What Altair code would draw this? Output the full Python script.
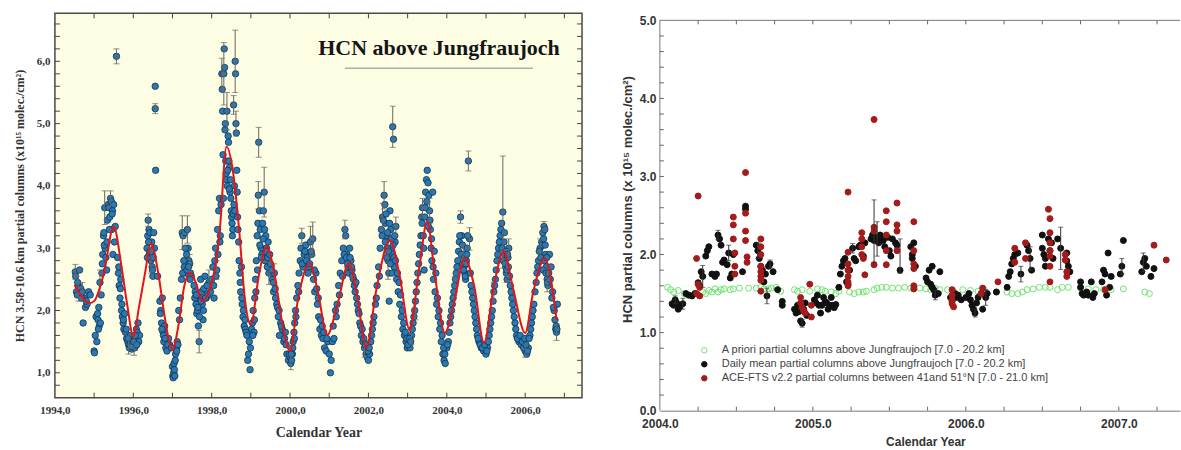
import altair as alt
import pandas as pd

# ---------------- LEFT PANEL DATA (HCN above Jungfraujoch, 3.58-10.6 km) ----------------
t1994 = [1994.52, 1994.53, 1994.55, 1994.57, 1994.60, 1994.63, 1994.66, 1994.70, 1994.72, 1994.75, 1994.78, 1994.82, 1994.86, 1994.90]
v1994 = [2.62, 2.55, 2.30, 2.25, 2.40, 2.65, 2.35, 2.30, 1.80, 2.20, 2.05, 2.10, 2.30, 2.25]

t1995 = [1995.00, 1995.01, 1995.05, 1995.07, 1995.09, 1995.10, 1995.12, 1995.13, 1995.15, 1995.16, 1995.18, 1995.20,
         1995.22, 1995.24, 1995.25, 1995.27, 1995.28, 1995.30, 1995.32, 1995.34, 1995.36, 1995.38, 1995.40, 1995.42,
         1995.44, 1995.45, 1995.47, 1995.48, 1995.50, 1995.52, 1995.57, 1995.60, 1995.62, 1995.64, 1995.66, 1995.68,
         1995.70, 1995.72, 1995.74, 1995.76, 1995.78, 1995.80, 1995.83, 1995.86, 1995.88, 1995.90, 1995.93, 1995.96, 1995.98]
v1995 = [1.35, 1.32, 1.90, 1.50, 1.95, 1.85, 2.05, 1.75, 2.45, 1.80, 2.25, 2.60,
         2.90, 3.20, 3.25, 3.65, 3.00, 2.85, 2.65, 3.45, 3.70, 3.65, 3.50, 3.80,
         3.75, 3.30, 3.60, 2.90, 3.70, 3.10, 6.08, 2.85, 2.60, 2.40, 2.20, 2.50,
         2.00, 1.90, 1.80, 1.70, 1.95, 1.65, 1.55, 1.50, 1.45, 1.40, 1.60, 1.38, 1.50]

t1996 = [1996.02, 1996.04, 1996.06, 1996.08, 1996.10, 1996.12, 1996.14, 1996.16, 1996.35, 1996.37, 1996.38, 1996.40,
         1996.41, 1996.43, 1996.45, 1996.47, 1996.48, 1996.50, 1996.52, 1996.54, 1996.56, 1996.56, 1996.57, 1996.62,
         1996.68, 1996.70, 1996.72, 1996.74, 1996.76, 1996.78, 1996.80, 1996.83, 1996.86, 1996.90, 1996.93]
v1996 = [1.45, 1.40, 1.55, 1.70, 1.65, 1.80, 1.50, 1.60, 3.00, 3.20, 3.45, 3.30,
         2.90, 3.25, 2.80, 3.10, 2.70, 2.55, 3.25, 3.00, 5.60, 5.24, 4.25, 2.55,
         2.15, 2.00, 1.80, 2.20, 1.65, 1.50, 1.75, 1.40, 1.35, 1.55, 1.45]

t1997 = [1997.00, 1997.01, 1997.02, 1997.03, 1997.04, 1997.05, 1997.06, 1997.08, 1997.10, 1997.12, 1997.14, 1997.16,
         1997.20, 1997.23, 1997.25, 1997.27, 1997.30, 1997.32, 1997.34, 1997.36, 1997.38, 1997.40, 1997.42, 1997.44,
         1997.46, 1997.48, 1997.55, 1997.58, 1997.60, 1997.62, 1997.64, 1997.66, 1997.68, 1997.70, 1997.72, 1997.74,
         1997.76, 1997.78, 1997.80, 1997.83, 1997.86, 1997.90, 1997.93, 1997.97]
v1997 = [1.10, 0.95, 0.92, 1.00, 1.15, 1.05, 0.95, 1.30, 1.40, 1.50, 1.45, 2.00,
         2.20, 2.50, 3.25, 3.20, 2.70, 3.25, 2.60, 2.90, 3.30, 3.00, 2.80, 2.75,
         2.60, 2.55, 2.40, 2.30, 2.10, 1.95, 2.00, 1.75, 1.50, 2.20, 2.50, 2.30,
         2.10, 1.85, 2.35, 2.55, 2.20, 2.25, 2.45, 2.30]

t1998 = [1998.00, 1998.03, 1998.06, 1998.08, 1998.10, 1998.13, 1998.15, 1998.18, 1998.20, 1998.22, 1998.24, 1998.26,
         1998.27, 1998.28, 1998.29, 1998.30, 1998.31, 1998.32, 1998.33, 1998.34, 1998.35, 1998.36, 1998.37, 1998.38,
         1998.39, 1998.40, 1998.42, 1998.43, 1998.44, 1998.46, 1998.47, 1998.48, 1998.50, 1998.52, 1998.54, 1998.56,
         1998.57, 1998.58, 1998.60, 1998.61, 1998.62, 1998.63, 1998.64, 1998.65, 1998.67, 1998.70, 1998.72, 1998.74,
         1998.76, 1998.78, 1998.80, 1998.83, 1998.86, 1998.88, 1998.92, 1998.94, 1998.96, 1998.98, 1998.99]
v1998 = [2.50, 2.70, 2.20, 2.80, 3.00, 2.65, 3.30, 3.60, 3.80, 3.20, 3.70, 5.80,
         5.55, 5.20, 4.50, 3.80, 5.80, 6.20, 5.90, 4.90, 5.00, 4.40, 4.20, 4.10,
         5.20, 4.00, 4.80, 4.70, 4.40, 4.30, 3.90, 4.10, 3.60, 3.40, 3.30, 5.30,
         3.70, 4.00, 6.00, 5.80, 5.00, 4.85, 4.25, 3.90, 3.30, 2.80, 2.60, 2.30,
         2.70, 2.10, 1.90, 1.75, 1.70, 1.65, 1.20, 1.30, 1.50, 1.05, 1.40]

t1999 = [1999.02, 1999.04, 1999.06, 1999.08, 1999.10, 1999.12, 1999.14, 1999.16, 1999.18, 1999.19, 1999.20, 1999.22,
         1999.24, 1999.26, 1999.28, 1999.30, 1999.32, 1999.34, 1999.36, 1999.38, 1999.40, 1999.42, 1999.44, 1999.46,
         1999.50, 1999.55, 1999.58, 1999.60, 1999.63, 1999.66, 1999.70, 1999.73, 1999.76, 1999.80, 1999.84, 1999.88,
         1999.92, 1999.96]
v1999 = [1.70, 1.80, 2.00, 1.65, 2.20, 2.50, 2.80, 3.20, 3.40, 3.85, 4.70, 3.60,
         3.30, 3.00, 2.90, 3.40, 3.60, 3.90, 2.80, 3.20, 3.00, 2.70, 3.10, 2.60,
         2.75, 2.50, 2.30, 2.60, 2.20, 2.10, 1.90, 1.60, 1.80, 1.70, 1.50, 1.65,
         1.30, 1.20]

t2000 = [2000.00, 2000.02, 2000.04, 2000.06, 2000.08, 2000.10, 2000.12, 2000.14, 2000.17, 2000.20, 2000.23, 2000.26,
         2000.28, 2000.30, 2000.33, 2000.36, 2000.40, 2000.44, 2000.48, 2000.52, 2000.55, 2000.58, 2000.60, 2000.63,
         2000.66, 2000.70, 2000.73, 2000.76, 2000.80, 2000.84, 2000.88, 2000.92, 2000.96]
v2000 = [1.25, 1.15, 1.20, 1.30, 1.50, 1.65, 1.80, 2.00, 2.20, 2.40, 2.60, 2.80,
         3.00, 3.20, 2.70, 2.90, 3.05, 2.85, 2.70, 3.10, 2.90, 3.15, 2.50, 2.30,
         2.60, 2.10, 1.90, 1.70, 1.60, 1.55, 1.40, 1.35, 1.50]

t2001 = [2001.00, 2001.03, 2001.05, 2001.08, 2001.12, 2001.16, 2001.20, 2001.24, 2001.28, 2001.32, 2001.36, 2001.40,
         2001.42, 2001.45, 2001.48, 2001.50, 2001.52, 2001.55, 2001.58, 2001.62, 2001.66, 2001.70, 2001.74, 2001.78,
         2001.82, 2001.86, 2001.90, 2001.94, 2001.97]
v2001 = [1.30, 1.00, 1.20, 1.50, 1.55, 2.00, 2.10, 2.40, 2.60, 2.80, 3.00, 3.30,
         3.20, 2.90, 2.70, 2.60, 3.00, 2.80, 2.65, 2.50, 2.30, 2.20, 2.00, 1.80,
         1.60, 1.50, 1.40, 1.30, 1.25]

t2002 = [2002.00, 2002.03, 2002.06, 2002.10, 2002.14, 2002.18, 2002.22, 2002.26, 2002.30, 2002.33, 2002.36, 2002.40,
         2002.42, 2002.44, 2002.46, 2002.48, 2002.50, 2002.52, 2002.53, 2002.55, 2002.57, 2002.59, 2002.61, 2002.62,
         2002.64, 2002.66, 2002.68, 2002.70, 2002.72, 2002.76, 2002.80, 2002.84, 2002.88, 2002.92, 2002.96, 2002.99]
v2002 = [1.20, 1.30, 1.50, 1.70, 1.90, 2.10, 2.40, 2.70, 3.00, 3.30, 3.50, 3.85,
         3.70, 3.40, 3.20, 3.00, 2.80, 2.60, 2.15, 3.60, 3.30, 3.00, 2.90, 4.95,
         4.75, 2.70, 3.10, 3.35, 2.50, 2.30, 2.10, 1.90, 1.70, 1.60, 1.50, 1.40]

t2003 = [2003.03, 2003.06, 2003.10, 2003.14, 2003.18, 2003.22, 2003.26, 2003.30, 2003.34, 2003.36, 2003.38, 2003.40,
         2003.42, 2003.44, 2003.46, 2003.48, 2003.50, 2003.52, 2003.54, 2003.56, 2003.58, 2003.60, 2003.62, 2003.64,
         2003.66, 2003.70, 2003.74, 2003.78, 2003.82, 2003.86, 2003.90, 2003.93, 2003.96]
v2003 = [1.50, 1.40, 1.60, 1.80, 2.00, 2.30, 2.60, 2.90, 3.20, 3.50, 3.65, 3.20,
         2.65, 3.50, 3.90, 4.10, 4.25, 4.05, 3.85, 3.60, 3.30, 3.00, 2.80, 3.90,
         2.50, 2.30, 2.10, 1.90, 1.70, 1.50, 1.30, 1.20, 1.15]

t2004 = [2004.00, 2004.04, 2004.08, 2004.12, 2004.16, 2004.20, 2004.24, 2004.28, 2004.32, 2004.35, 2004.38, 2004.40,
         2004.42, 2004.44, 2004.46, 2004.48, 2004.50, 2004.52, 2004.55, 2004.58, 2004.62, 2004.66, 2004.70, 2004.74,
         2004.78, 2004.82, 2004.88, 2004.94]
v2004 = [1.40, 1.50, 1.80, 2.00, 2.20, 2.40, 2.60, 2.80, 3.10, 3.50, 3.20, 3.05,
         2.90, 2.70, 2.60, 2.50, 2.80, 3.00, 4.40, 3.15, 2.40, 2.20, 2.00, 1.80,
         1.60, 1.50, 1.40, 1.35]

t2005 = [2005.00, 2005.04, 2005.08, 2005.12, 2005.16, 2005.20, 2005.24, 2005.28, 2005.32, 2005.36, 2005.40, 2005.43,
         2005.46, 2005.48, 2005.50, 2005.52, 2005.54, 2005.56, 2005.58, 2005.62, 2005.66, 2005.70, 2005.74, 2005.78,
         2005.84, 2005.90]
v2005 = [1.30, 1.40, 1.60, 1.80, 2.00, 2.30, 2.50, 2.80, 3.00, 3.20, 3.40, 3.58,
         3.10, 2.90, 2.70, 2.60, 2.50, 2.85, 3.00, 2.40, 2.20, 2.00, 1.80, 1.60,
         1.50, 1.45]

t2006 = [2006.00, 2006.04, 2006.08, 2006.12, 2006.16, 2006.20, 2006.25, 2006.30, 2006.34, 2006.38, 2006.42, 2006.45,
         2006.48, 2006.50, 2006.52, 2006.54, 2006.56, 2006.58, 2006.62, 2006.66, 2006.70, 2006.74, 2006.78, 2006.80, 2006.82]
v2006 = [1.35, 1.30, 1.40, 1.60, 1.80, 2.00, 2.30, 2.60, 2.80, 3.00, 3.10, 3.25,
         3.35, 3.30, 2.90, 2.70, 2.50, 2.40, 2.90, 2.70, 2.30, 2.00, 1.70, 1.65, 2.10]

# extra observations filling the dense band around the seasonal cycle
tx = [1994.58, 1994.68, 1994.80, 1995.03, 1995.11, 1995.21, 1995.26, 1995.33, 1995.39, 1995.46, 1995.54, 1995.63,
      1995.67, 1995.71, 1995.75, 1995.82, 1995.87, 1995.92, 1995.95, 1996.01, 1996.05, 1996.09, 1996.36, 1996.39,
      1996.42, 1996.46, 1996.49, 1996.51, 1996.69, 1996.73, 1996.77, 1996.81, 1996.88, 1996.97, 1997.07, 1997.11,
      1997.18, 1997.26, 1997.29, 1997.33, 1997.37, 1997.41, 1997.45, 1997.57, 1997.61, 1997.65, 1997.69, 1997.73,
      1997.79, 1997.84, 1997.88, 1998.05, 1998.11, 1998.16, 1998.21, 1998.41, 1998.45, 1998.49, 1998.51, 1998.53,
      1998.55, 1998.59, 1998.66, 1998.69, 1998.73, 1998.77, 1998.81, 1998.85, 1998.90, 1999.05, 1999.09, 1999.13,
      1999.17, 1999.23, 1999.27, 1999.31, 1999.35, 1999.39, 1999.43, 1999.48, 1999.53, 1999.57, 1999.62, 1999.68,
      1999.72, 1999.78, 1999.86, 1999.90, 1999.98, 2000.03, 2000.07, 2000.11, 2000.15, 2000.22, 2000.31, 2000.38,
      2000.42, 2000.46, 2000.50, 2000.54, 2000.62, 2000.68, 2000.72, 2000.78, 2000.82, 2000.86, 2000.94, 2001.10,
      2001.18, 2001.26, 2001.34, 2001.38, 2001.44, 2001.47, 2001.53, 2001.57, 2001.60, 2001.64, 2001.68, 2001.72,
      2001.76, 2001.80, 2001.84, 2001.88, 2001.92, 2001.99, 2002.02, 2002.08, 2002.12, 2002.20, 2002.28, 2002.35,
      2002.38, 2002.43, 2002.45, 2002.47, 2002.49, 2002.51, 2002.54, 2002.56, 2002.58, 2002.60, 2002.63, 2002.65,
      2002.67, 2002.69, 2002.74, 2002.78, 2002.82, 2002.86, 2002.90, 2002.94, 2002.98, 2003.01, 2003.05, 2003.08,
      2003.12, 2003.16, 2003.20, 2003.24, 2003.28, 2003.32, 2003.37, 2003.41, 2003.45, 2003.49, 2003.53, 2003.57,
      2003.61, 2003.65, 2003.68, 2003.72, 2003.76, 2003.80, 2003.84, 2003.88, 2003.92, 2003.95, 2004.02, 2004.06,
      2004.10, 2004.14, 2004.18, 2004.22, 2004.26, 2004.30, 2004.33, 2004.37, 2004.41, 2004.43, 2004.45, 2004.47,
      2004.49, 2004.51, 2004.53, 2004.60, 2004.64, 2004.68, 2004.72, 2004.76, 2004.80, 2004.85, 2004.91, 2004.97,
      2005.02, 2005.06, 2005.10, 2005.14, 2005.18, 2005.22, 2005.26, 2005.30, 2005.34, 2005.38, 2005.41, 2005.44,
      2005.47, 2005.49, 2005.51, 2005.53, 2005.55, 2005.57, 2005.60, 2005.64, 2005.68, 2005.72, 2005.76, 2005.80,
      2005.87, 2005.93, 2005.96, 2005.99, 2006.02, 2006.06, 2006.10, 2006.14, 2006.18, 2006.22, 2006.28, 2006.32,
      2006.36, 2006.40, 2006.44, 2006.46, 2006.47, 2006.49, 2006.51, 2006.53, 2006.55, 2006.57, 2006.60, 2006.64,
      2006.68, 2006.72, 2006.76, 2006.79, 2006.81]
vx = [2.45, 2.20, 2.15, 1.60, 1.70, 2.75, 3.05, 3.10, 3.30, 3.55, 3.35, 2.70,
      2.35, 2.10, 1.85, 1.70, 1.55, 1.45, 1.42, 1.50, 1.60, 1.45, 2.85, 3.10,
      2.95, 2.95, 2.65, 2.85, 1.95, 1.70, 1.60, 1.55, 1.45, 1.40, 1.20, 1.35,
      1.85, 2.60, 2.80, 3.00, 2.65, 2.70, 2.50, 2.20, 2.25, 2.05, 1.90, 2.15,
      2.00, 2.20, 2.40, 2.40, 2.55, 2.90, 3.10, 4.25, 3.95, 3.80, 3.50, 3.20,
      3.55, 3.60, 3.50, 3.10, 2.45, 2.20, 2.00, 1.85, 1.60, 1.60, 1.85, 2.30,
      2.65, 3.05, 2.85, 3.15, 3.30, 2.95, 2.85, 2.90, 2.65, 2.45, 2.35, 2.05,
      2.00, 1.75, 1.55, 1.45, 1.30, 1.30, 1.40, 1.55, 1.90, 2.30, 2.75, 2.95,
      2.80, 2.60, 2.75, 2.95, 2.65, 2.35, 2.20, 1.85, 1.75, 1.65, 1.55, 1.75,
      1.90, 2.25, 2.55, 2.90, 2.85, 2.75, 2.85, 2.70, 2.55, 2.40, 2.45, 2.10,
      1.95, 1.75, 1.70, 1.55, 1.45, 1.35, 1.40, 1.60, 1.80, 2.20, 2.55, 3.20,
      3.45, 3.10, 3.55, 2.85, 3.25, 2.95, 3.40, 2.75, 3.15, 2.60, 3.05, 2.85,
      3.20, 2.80, 2.60, 2.45, 2.25, 2.00, 1.80, 1.65, 1.55, 1.45, 1.55, 1.50,
      1.70, 1.90, 2.15, 2.45, 2.75, 3.05, 3.40, 3.00, 3.65, 3.75, 3.35, 3.45,
      3.15, 2.70, 2.95, 2.60, 2.20, 2.00, 1.80, 1.60, 1.40, 1.30, 1.45, 1.65,
      1.90, 2.10, 2.30, 2.50, 2.70, 2.95, 3.20, 2.90, 2.75, 2.65, 2.85, 2.55,
      2.75, 2.90, 3.20, 2.60, 2.30, 2.10, 1.90, 1.70, 1.55, 1.45, 1.40, 1.45,
      1.35, 1.50, 1.70, 1.90, 2.15, 2.40, 2.65, 2.90, 3.10, 3.30, 3.00, 2.80,
      3.25, 2.75, 2.95, 2.65, 2.90, 2.70, 2.55, 2.30, 2.10, 1.90, 1.70, 1.55,
      1.60, 1.50, 1.40, 1.55, 1.45, 1.35, 1.55, 1.70, 1.90, 2.10, 2.45, 2.70,
      2.95, 2.85, 3.05, 2.65, 3.15, 2.80, 3.05, 2.60, 2.85, 2.45, 2.60, 2.50,
      2.20, 2.05, 1.85, 1.75, 1.70]

# error bars of selected Jungfraujoch points
err_t = [1995.57, 1996.56, 1998.60, 1998.31, 1998.39, 1999.20, 1999.34, 2002.62, 2004.55, 2005.43,
         1995.27, 1995.42, 1997.25, 1997.38, 1997.68, 1996.02, 1996.38, 1999.19, 2000.58, 2000.30,
         2001.40, 2002.40, 2002.36, 2003.38, 2004.35, 2004.58, 2006.48, 2006.80, 1994.52, 1994.70,
         1994.60, 2005.58, 2003.10, 1999.60, 2001.90, 1997.93, 1995.15, 1998.26, 1998.56, 1998.62,
         1995.88, 1996.45, 1997.44, 1998.12, 1999.46, 2000.02, 2000.52, 2001.58, 2002.50, 2002.70,
         2003.56, 2004.42, 2005.52, 2006.00, 2006.38, 2006.56, 2005.20, 2004.20, 2003.20, 2002.10]
err_v = [6.08, 5.24, 6.00, 5.80, 5.20, 4.70, 3.90, 4.95, 4.40, 3.58,
         3.65, 3.80, 3.25, 3.30, 1.50, 1.45, 3.45, 3.85, 3.15, 3.20,
         3.30, 3.85, 3.50, 3.65, 3.50, 3.15, 3.35, 1.65, 2.62, 2.30,
         2.40, 3.00, 1.60, 2.60, 1.40, 2.45, 2.45, 5.80, 5.30, 5.00,
         1.45, 2.80, 2.75, 2.65, 2.60, 1.15, 3.10, 2.65, 2.80, 3.35,
         3.60, 2.90, 2.60, 1.35, 3.00, 2.50, 2.30, 2.40, 2.00, 1.70]
err_e = [0.12, 0.08, 0.50, 0.50, 0.30, 0.24, 0.40, 0.33, 0.16, 0.90,
         0.27, 0.12, 0.27, 0.22, 0.18, 0.17, 0.10, 0.22, 0.27, 0.12,
         0.15, 0.22, 0.22, 0.15, 0.10, 0.18, 0.08, 0.13, 0.12, 0.15,
         0.25, 0.15, 0.15, 0.15, 0.15, 0.20, 0.20, 0.25, 0.15, 0.20,
         0.15, 0.20, 0.15, 0.15, 0.18, 0.10, 0.25, 0.15, 0.30, 0.15,
         0.20, 0.15, 0.15, 0.10, 0.15, 0.20, 0.15, 0.15, 0.15, 0.12]

# red fitted curve
fit_t = [1994.50, 1994.90, 1995.00, 1995.25, 1995.50, 1995.70, 1995.85, 1996.00, 1996.15, 1996.30, 1996.45, 1996.65,
         1996.80, 1997.00, 1997.15, 1997.30, 1997.45, 1997.60, 1997.75, 1998.00, 1998.20, 1998.38, 1998.55, 1998.70,
         1998.85, 1999.00, 1999.20, 1999.40, 1999.60, 1999.80, 2000.00, 2000.20, 2000.50, 2000.70, 2000.95, 2001.20,
         2001.50, 2001.70, 2001.95, 2002.20, 2002.55, 2002.80, 2003.05, 2003.30, 2003.50, 2003.70, 2003.95, 2004.20,
         2004.45, 2004.70, 2004.95, 2005.20, 2005.45, 2005.70, 2006.00, 2006.20, 2006.50, 2006.80]
fit_v = [2.41, 2.12, 2.15, 2.60, 3.35, 2.70, 2.07, 1.59, 2.07, 2.60, 3.08, 2.55,
         1.90, 1.37, 1.75, 2.39, 2.60, 2.44, 2.15, 2.44, 3.24, 4.63, 4.20, 3.30,
         2.17, 1.77, 2.55, 3.03, 2.60, 1.80, 1.35, 2.17, 2.76, 2.33, 1.61, 2.07,
         2.76, 2.28, 1.40, 2.33, 3.13, 2.55, 1.69, 2.70, 3.43, 2.55, 1.64, 2.17,
         2.84, 2.39, 1.48, 2.39, 2.95, 2.33, 1.64, 2.28, 2.84, 1.85]

left_title = ["HCN above Jungfraujoch"]

# ---------------- RIGHT PANEL DATA (2004-2007 comparison) ----------------
apriori_t = [2004.05, 2004.07, 2004.09, 2004.12, 2004.16, 2004.18, 2004.23, 2004.28, 2004.30, 2004.32, 2004.34, 2004.36,
             2004.38, 2004.40, 2004.42, 2004.46, 2004.48, 2004.52, 2004.58, 2004.63, 2004.66, 2004.68, 2004.71, 2004.73,
             2004.76, 2004.79, 2004.88, 2004.90, 2004.93, 2004.98, 2005.03, 2005.06, 2005.08, 2005.12, 2005.15, 2005.17,
             2005.24, 2005.27, 2005.30, 2005.33, 2005.35, 2005.40, 2005.42, 2005.45, 2005.48, 2005.52, 2005.56, 2005.60,
             2005.64, 2005.66, 2005.70, 2005.74, 2005.77, 2005.80, 2005.83, 2005.88, 2005.92, 2005.98, 2006.03, 2006.08,
             2006.12, 2006.20, 2006.27, 2006.30, 2006.34, 2006.37, 2006.40, 2006.44, 2006.48, 2006.52, 2006.55, 2006.60,
             2006.63, 2006.67, 2006.75, 2006.80, 2006.85, 2006.90, 2006.95, 2007.03, 2007.17, 2007.20]
apriori_v = [1.58, 1.55, 1.52, 1.54, 1.50, 1.48, 1.50, 1.52, 1.50, 1.54, 1.52, 1.56,
             1.52, 1.55, 1.56, 1.55, 1.56, 1.57, 1.57, 1.57, 1.58, 1.56, 1.56, 1.57,
             1.58, 1.53, 1.55, 1.53, 1.55, 1.53, 1.56, 1.55, 1.53, 1.52, 1.50, 1.53,
             1.52, 1.50, 1.52, 1.52, 1.53, 1.55, 1.57, 1.58, 1.58, 1.57, 1.57, 1.58,
             1.57, 1.56, 1.57, 1.56, 1.55, 1.57, 1.55, 1.55, 1.53, 1.55, 1.54, 1.53,
             1.55, 1.52, 1.52, 1.50, 1.50, 1.52, 1.55, 1.56, 1.58, 1.58, 1.58, 1.55,
             1.58, 1.58, 1.57, 1.56, 1.55, 1.55, 1.55, 1.56, 1.52, 1.50]

daily_t = [2004.08, 2004.09, 2004.10, 2004.11, 2004.12, 2004.13, 2004.15, 2004.17, 2004.19, 2004.21, 2004.23, 2004.25,
           2004.26, 2004.27, 2004.28, 2004.30, 2004.31, 2004.32, 2004.34, 2004.36, 2004.37, 2004.38, 2004.39, 2004.40,
           2004.41, 2004.42, 2004.44, 2004.45, 2004.46, 2004.47, 2004.48, 2004.54, 2004.56, 2004.56, 2004.63, 2004.64,
           2004.65, 2004.66, 2004.67, 2004.68, 2004.69, 2004.70, 2004.71, 2004.72, 2004.74, 2004.77, 2004.80, 2004.80,
           2004.88, 2004.89, 2004.90, 2004.91, 2004.92, 2004.93, 2004.94, 2004.95, 2004.96, 2005.01, 2005.02, 2005.03,
           2005.04, 2005.05, 2005.06, 2005.07, 2005.08, 2005.09, 2005.10, 2005.11, 2005.12, 2005.13, 2005.14, 2005.15,
           2005.17, 2005.18, 2005.19, 2005.20, 2005.21, 2005.22, 2005.23, 2005.24, 2005.26, 2005.27, 2005.28, 2005.30,
           2005.31, 2005.33, 2005.34, 2005.38, 2005.39, 2005.40, 2005.41, 2005.42, 2005.43, 2005.44, 2005.45, 2005.46,
           2005.47, 2005.49, 2005.50, 2005.51, 2005.52, 2005.54, 2005.55, 2005.57, 2005.64, 2005.65, 2005.65, 2005.66,
           2005.67, 2005.74, 2005.75, 2005.76, 2005.77, 2005.78, 2005.78, 2005.79, 2005.80, 2005.82, 2005.83, 2005.90,
           2005.91, 2005.93, 2005.94, 2005.95, 2005.97, 2006.00, 2006.02, 2006.03, 2006.04, 2006.05, 2006.06, 2006.07,
           2006.08, 2006.10, 2006.11, 2006.13, 2006.14, 2006.20, 2006.27, 2006.28, 2006.29, 2006.30, 2006.31, 2006.32,
           2006.34, 2006.36, 2006.40, 2006.41, 2006.42, 2006.43, 2006.50, 2006.50, 2006.51, 2006.52, 2006.52, 2006.54,
           2006.55, 2006.56, 2006.57, 2006.60, 2006.62, 2006.66, 2006.66, 2006.67, 2006.68, 2006.75, 2006.75, 2006.76,
           2006.77, 2006.79, 2006.80, 2006.82, 2006.83, 2006.84, 2006.89, 2006.90, 2006.91, 2006.92, 2006.93, 2006.94,
           2006.95, 2007.01, 2007.02, 2007.03, 2007.15, 2007.16, 2007.17, 2007.18, 2007.21, 2007.23]
daily_v = [1.37, 1.35, 1.42, 1.38, 1.30, 1.33, 1.37, 1.50, 1.48, 1.47, 1.50, 1.64,
           1.60, 1.78, 1.72, 1.98, 2.05, 2.10, 1.75, 1.72, 1.75, 2.25, 2.20, 2.12,
           1.90, 1.93, 1.87, 2.02, 1.70, 1.75, 2.00, 1.78, 2.62, 2.58, 2.12, 2.05,
           1.95, 1.85, 1.80, 1.65, 1.75, 1.47, 1.85, 1.88, 1.78, 1.55, 1.40, 1.35,
           1.30, 1.25, 1.35, 1.27, 1.15, 1.12, 1.30, 1.38, 1.22, 1.42, 1.38, 1.48,
           1.35, 1.25, 1.35, 1.45, 1.40, 1.38, 1.30, 1.35, 1.45, 1.35, 1.32, 1.36,
           1.58, 1.75, 1.85, 1.92, 1.95, 1.65, 1.62, 1.80, 2.08, 1.95, 1.92, 2.10,
           2.12, 1.98, 2.15, 2.20, 2.25, 2.18, 2.22, 2.20, 2.15, 2.25, 2.20, 2.18,
           2.10, 2.22, 2.05, 1.98, 2.20, 2.15, 2.12, 1.80, 2.10, 2.00, 1.95, 2.15,
           1.85, 1.70, 1.65, 1.80, 1.62, 1.58, 1.85, 1.55, 1.48, 1.50, 1.78, 1.45,
           1.40, 1.50, 1.45, 1.48, 1.42, 1.45, 1.50, 1.42, 1.35, 1.30, 1.25, 1.38,
           1.45, 1.50, 1.30, 1.45, 1.50, 1.52, 1.58, 1.72, 1.78, 1.88, 1.95, 2.00,
           2.02, 1.75, 2.12, 2.05, 1.95, 1.80, 2.25, 2.08, 2.00, 1.95, 1.85, 2.20,
           2.05, 2.15, 1.95, 2.20, 2.08, 2.02, 1.92, 1.85, 1.78, 1.65, 1.58, 1.50,
           1.48, 1.52, 1.48, 1.65, 1.45, 1.50, 1.65, 1.80, 1.75, 1.48, 2.02, 1.58,
           1.72, 1.75, 1.85, 2.18, 1.78, 1.90, 1.95, 1.85, 1.72, 1.82]

ace_t = [2004.24, 2004.25, 2004.25, 2004.24, 2004.26, 2004.26, 2004.48, 2004.48, 2004.48, 2004.49, 2004.49, 2004.49,
         2004.56, 2004.56, 2004.56, 2004.56, 2004.57, 2004.57, 2004.66, 2004.66, 2004.66, 2004.66, 2004.66, 2004.66,
         2004.66, 2004.66, 2004.92, 2004.92, 2004.93, 2004.94, 2004.95, 2004.98, 2004.99, 2004.99, 2005.23, 2005.23,
         2005.23, 2005.23, 2005.23, 2005.23, 2005.23, 2005.32, 2005.32, 2005.32, 2005.32, 2005.33, 2005.34, 2005.40,
         2005.40, 2005.40, 2005.40, 2005.48, 2005.48, 2005.48, 2005.48, 2005.48, 2005.55, 2005.55, 2005.55, 2005.55,
         2005.66, 2005.66, 2005.66, 2005.66, 2005.66, 2005.66, 2005.91, 2005.91, 2005.91, 2005.91, 2005.92, 2006.11,
         2006.10, 2006.21, 2006.32, 2006.32, 2006.39, 2006.39, 2006.54, 2006.55, 2006.55, 2006.55, 2006.55, 2006.55,
         2006.55, 2006.55, 2006.65, 2006.65, 2006.66, 2006.66, 2006.91, 2007.23, 2007.31]
ace_v = [1.95, 2.75, 1.62, 1.50, 1.47, 1.58, 2.48, 2.38, 2.20, 2.02, 1.85, 1.75,
         3.05, 2.53, 2.30, 2.18, 1.97, 1.90, 2.20, 2.10, 2.00, 1.85, 1.78, 1.72,
         1.67, 1.53, 1.45, 1.38, 1.32, 1.28, 1.25, 1.62, 1.20, 1.35, 2.80, 2.03,
         1.88, 1.80, 1.72, 1.65, 1.60, 2.28, 2.20, 2.10, 2.00, 1.95, 1.74, 3.73,
         2.35, 2.30, 1.87, 2.56, 2.42, 2.25, 2.05, 1.87, 2.66, 2.38, 2.30, 2.05,
         2.42, 2.05, 1.88, 1.82, 1.60, 1.56, 1.55, 1.48, 1.42, 1.37, 1.33, 1.57,
         1.50, 1.65, 1.90, 2.08, 2.15, 1.95, 2.58, 2.46, 2.28, 2.15, 2.05, 1.98,
         1.85, 1.65, 2.00, 1.93, 1.78, 1.72, 1.55, 2.12, 1.93]

derr_t = [2004.10, 2004.15, 2004.28, 2004.38, 2004.45, 2004.64, 2004.70, 2004.72, 2004.93, 2005.26,
          2005.40, 2005.42, 2005.57, 2005.80, 2006.06, 2006.13, 2006.36, 2006.42, 2006.62, 2007.02, 2007.16]
derr_v = [1.42, 1.37, 1.72, 2.25, 2.02, 2.05, 1.47, 1.88, 1.12, 2.08,
          2.30, 2.20, 1.98, 1.48, 1.25, 1.45, 1.75, 1.95, 2.08, 1.85, 1.90]
derr_e = [0.05, 0.07, 0.14, 0.06, 0.10, 0.10, 0.10, 0.05, 0.05, 0.06,
          0.40, 0.22, 0.22, 0.06, 0.05, 0.10, 0.10, 0.15, 0.27, 0.10, 0.12]

series_names = ["A priori partial columns above Jungfraujoch [7.0 - 20.2 km]",
                "Daily mean partial columns above Jungfraujoch [7.0 - 20.2 km]",
                "ACE-FTS v2.2 partial columns between 41and 51\u00b0N [7.0 - 21.0 km]"]

# ---------------- BUILD TABLES ----------------
jt = t1994 + t1995 + t1996 + t1997 + t1998 + t1999 + t2000 + t2001 + t2002 + t2003 + t2004 + t2005 + t2006 + tx
jv = v1994 + v1995 + v1996 + v1997 + v1998 + v1999 + v2000 + v2001 + v2002 + v2003 + v2004 + v2005 + v2006 + vx
jfj = pd.DataFrame({"t": jt, "v": jv})
jerr = pd.DataFrame({"t": err_t, "v": err_v, "e": err_e})
fit = pd.DataFrame({"t": fit_t, "v": fit_v})

pts = pd.concat([
    pd.DataFrame({"t": apriori_t, "v": apriori_v, "s": series_names[0]}),
    pd.DataFrame({"t": daily_t, "v": daily_v, "s": series_names[1]}),
    pd.DataFrame({"t": ace_t, "v": ace_v, "s": series_names[2]}),
], ignore_index=True)
pts["idx"] = range(len(pts))
derr = pd.DataFrame({"t": derr_t, "v": derr_v, "e": derr_e})

# ---------------- GEOMETRY / STYLE ----------------
L_W, L_H = 528, 385
R_W, R_H = 521, 398          # top 7 px of the right view lie above the 5.0 line
R_TOP = 5.0 * R_H / 391.0    # value at the very top of the right view
SERIF = "Liberation Serif"
SANS = "Liberation Sans"

lx = alt.Scale(domain=[1994.0, 2007.45], zero=False, nice=False)
ly = alt.Scale(domain=[0.6, 6.77], zero=False, nice=False)
rx = alt.Scale(domain=[2004.0, 2007.4], zero=False, nice=False)
ry = alt.Scale(domain=[0.0, R_TOP], zero=False, nice=False)

comma = "replace(format(datum.value, '.1f'), '.', ',')"

lx_axis = alt.Axis(values=[1994, 1996, 1998, 2000, 2002, 2004, 2006], labelExpr=comma, labelFont=SERIF,
                   labelFontWeight="bold", labelFontSize=11, labelColor="#333", ticks=False, domain=False,
                   grid=False, labelPadding=7, labelFlush=False, title="Calendar Year", titleFont=SERIF,
                   titleFontSize=14, titleFontWeight="bold", titleColor="#333", titlePadding=10)
ly_axis = alt.Axis(values=[1, 2, 3, 4, 5, 6], labelExpr=comma, labelFont=SERIF, labelFontWeight="bold",
                   labelFontSize=11, labelColor="#333", ticks=False, domain=False, grid=False, labelPadding=5,
                   labelFlush=False,
                   title="HCN 3.58-10.6 km partial columns (x10\u00b9\u2075 molec./cm\u00b2)", titleFont=SERIF,
                   titleFontSize=12, titleFontWeight="bold", titleColor="#333", titlePadding=10)

LX = alt.X("t:Q", scale=lx, axis=lx_axis)
LY = alt.Y("v:Q", scale=ly, axis=ly_axis)

# ---------------- LEFT PANEL ----------------
l_err = alt.Chart(jerr).mark_errorbar(ticks=alt.MarkConfig(size=6), color="#666", thickness=1).encode(
    x=LX, y=LY, yError="e:Q")
l_pts = alt.Chart(jfj).mark_circle(size=42, color="#2b79b3", stroke="#12344f", strokeWidth=0.8, opacity=1).encode(
    x=LX, y=LY)
l_fit = alt.Chart(fit).mark_line(color="#e3141b", strokeWidth=2, interpolate="monotone").encode(x=LX, y=LY)
l_title = alt.Chart(pd.DataFrame({"txt": left_title, "t": [2003.8], "v": [6.22]})).mark_text(
    font=SERIF, fontSize=22, fontWeight="bold", color="#151515").encode(x=LX, y=LY, text="txt:N")
l_line = alt.Chart(pd.DataFrame({"t": [2001.4], "t1": [2006.2], "v": [5.89]})).mark_rule(
    color="#888", strokeWidth=1).encode(x=LX, x2="t1:Q", y=LY)

lxt = pd.DataFrame({"t": list(range(1995, 2008))})
lyt = pd.DataFrame({"v": [round(0.8 + 0.2 * i, 1) for i in range(30)]})
tick_col = "#444"
l_tb = alt.Chart(lxt).mark_rule(color=tick_col).encode(x=LX, y=alt.value(L_H), y2=alt.value(L_H - 5))
l_tt = alt.Chart(lxt).mark_rule(color=tick_col).encode(x=LX, y=alt.value(0), y2=alt.value(5))
l_tl = alt.Chart(lyt).mark_rule(color=tick_col).encode(y=LY, x=alt.value(0), x2=alt.value(5))
l_tr = alt.Chart(lyt).mark_rule(color=tick_col).encode(y=LY, x=alt.value(L_W), x2=alt.value(L_W - 5))

left = alt.layer(l_pts, l_tb, l_tt, l_tl, l_tr, l_line, l_err, l_fit, l_title).properties(
    width=L_W, height=L_H,
    view=alt.ViewBackground(fill="#fdfde3", stroke="#4a4a4a", strokeWidth=1.5))

# ---------------- RIGHT PANEL ----------------
rx_axis = alt.Axis(values=[2004, 2005, 2006, 2007], format=".1f", labelFont=SANS, labelFontWeight="bold",
                   labelFontSize=12, labelColor="#333", ticks=False, domain=True, domainColor="#777",
                   grid=False, labelPadding=8, labelFlush=False, title="Calendar Year", titleFont=SANS,
                   titleFontSize=12, titleFontWeight="bold", titleColor="#333", titlePadding=7, titleX=266)
ry_axis = alt.Axis(values=[0, 1, 2, 3, 4, 5], format=".1f", labelFont=SANS, labelFontWeight="bold",
                   labelFontSize=12, labelColor="#333", ticks=False, domain=False,
                   grid=False, labelPadding=4, labelFlush=False,
                   title="HCN partial columns (x 10\u00b9\u2075 molec./cm\u00b2)", titleFont=SANS,
                   titleFontSize=13, titleFontWeight="bold", titleColor="#333", titlePadding=5, titleY=186)

RX = alt.X("t:Q", scale=rx, axis=rx_axis)
RY = alt.Y("v:Q", scale=ry, axis=ry_axis)

r_err = alt.Chart(derr).mark_errorbar(ticks=alt.MarkConfig(size=5), color="#333", thickness=1).encode(
    x=RX, y=RY, yError="e:Q")

legend = alt.Legend(orient="none", legendX=645, legendY=332, symbolType="circle", symbolSize=30,
                    symbolStrokeWidth=1, labelFont=SANS, labelFontSize=11, labelColor="#444",
                    labelOffset=12, rowPadding=2, padding=0, labelLimit=400)
r_pts = alt.Chart(pts).mark_point(shape="circle", size=36, strokeWidth=1, opacity=1).encode(
    x=RX, y=RY,
    stroke=alt.Stroke("s:N", scale=alt.Scale(domain=series_names, range=["#6fe36f", "#111111", "#a31b1b"]),
                      legend=legend, title=None),
    fill=alt.Fill("s:N", scale=alt.Scale(domain=series_names, range=["transparent", "#111111", "#a31b1b"]),
                  legend=legend, title=None),
    order=alt.Order("idx:Q"))

rxt = pd.DataFrame({"t": [2004.25, 2004.5, 2004.75, 2005.0, 2005.25, 2005.5, 2005.75, 2006.0, 2006.25,
                          2006.5, 2006.75, 2007.0, 2007.25]})
ryt = pd.DataFrame({"v": [round(0.2 * i, 1) for i in range(1, 25)]})
TOP_PX = R_H - 391
r_tb = alt.Chart(rxt).mark_rule(color="#666").encode(x=RX, y=alt.value(R_H), y2=alt.value(R_H - 4))
r_tt = alt.Chart(rxt).mark_rule(color="#666").encode(x=RX, y=alt.value(TOP_PX), y2=alt.value(TOP_PX + 4))
r_tl = alt.Chart(ryt).mark_rule(color="#666").encode(y=RY, x=alt.value(0), x2=alt.value(4))
r_top = alt.Chart(pd.DataFrame({"t": [2004.0], "t1": [2007.4], "v": [5.0]})).mark_rule(color="#777").encode(
    x=RX, x2="t1:Q", y=RY)
r_left = alt.Chart(pd.DataFrame({"t": [2004.0], "v": [0.0], "v1": [5.0]})).mark_rule(color="#777").encode(
    x=RX, y=RY, y2="v1:Q")

right = alt.layer(r_pts, r_top, r_left, r_tb, r_tt, r_tl, r_err).properties(
    width=R_W, height=R_H, view=alt.ViewBackground(stroke="transparent"))

chart = alt.hconcat(left, right, spacing=36).properties(
    padding={"left": 12, "top": 11, "right": 0, "bottom": 0}, background="white")

chart.save("out.html", embed_options={"renderer": "svg", "actions": False})
